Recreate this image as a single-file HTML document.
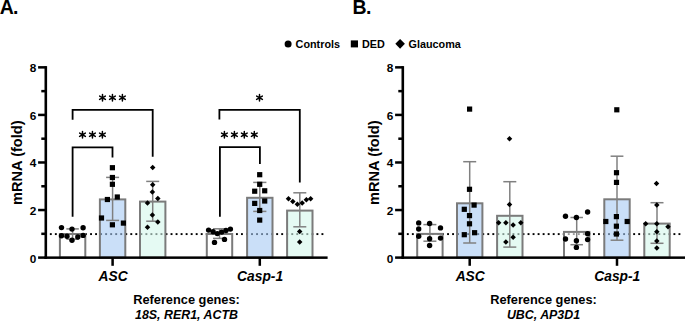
<!DOCTYPE html>
<html><head><meta charset="utf-8"><title>mRNA fold chart</title>
<style>html,body{margin:0;padding:0;background:#fff;}body{width:685px;height:321px;overflow:hidden;font-family:"Liberation Sans", sans-serif;}svg{display:block;}</style>
</head><body>
<svg width="685" height="321" viewBox="0 0 685 321">
<rect width="685" height="321" fill="#fff"/>
<g fill="#000"><rect x="49.85" y="233.15" width="1.9" height="1.9"/><rect x="54.88" y="233.15" width="1.9" height="1.9"/><rect x="59.91" y="233.15" width="1.9" height="1.9"/><rect x="64.94" y="233.15" width="1.9" height="1.9"/><rect x="69.97" y="233.15" width="1.9" height="1.9"/><rect x="75.00" y="233.15" width="1.9" height="1.9"/><rect x="80.03" y="233.15" width="1.9" height="1.9"/><rect x="85.06" y="233.15" width="1.9" height="1.9"/><rect x="90.09" y="233.15" width="1.9" height="1.9"/><rect x="95.12" y="233.15" width="1.9" height="1.9"/><rect x="100.15" y="233.15" width="1.9" height="1.9"/><rect x="105.18" y="233.15" width="1.9" height="1.9"/><rect x="110.21" y="233.15" width="1.9" height="1.9"/><rect x="115.24" y="233.15" width="1.9" height="1.9"/><rect x="120.27" y="233.15" width="1.9" height="1.9"/><rect x="125.30" y="233.15" width="1.9" height="1.9"/><rect x="130.33" y="233.15" width="1.9" height="1.9"/><rect x="135.36" y="233.15" width="1.9" height="1.9"/><rect x="140.39" y="233.15" width="1.9" height="1.9"/><rect x="145.42" y="233.15" width="1.9" height="1.9"/><rect x="150.45" y="233.15" width="1.9" height="1.9"/><rect x="155.48" y="233.15" width="1.9" height="1.9"/><rect x="160.51" y="233.15" width="1.9" height="1.9"/><rect x="165.54" y="233.15" width="1.9" height="1.9"/><rect x="170.57" y="233.15" width="1.9" height="1.9"/><rect x="175.60" y="233.15" width="1.9" height="1.9"/><rect x="180.63" y="233.15" width="1.9" height="1.9"/><rect x="185.66" y="233.15" width="1.9" height="1.9"/><rect x="190.69" y="233.15" width="1.9" height="1.9"/><rect x="195.72" y="233.15" width="1.9" height="1.9"/><rect x="200.75" y="233.15" width="1.9" height="1.9"/><rect x="205.78" y="233.15" width="1.9" height="1.9"/><rect x="210.81" y="233.15" width="1.9" height="1.9"/><rect x="215.84" y="233.15" width="1.9" height="1.9"/><rect x="220.87" y="233.15" width="1.9" height="1.9"/><rect x="225.90" y="233.15" width="1.9" height="1.9"/><rect x="230.93" y="233.15" width="1.9" height="1.9"/><rect x="235.96" y="233.15" width="1.9" height="1.9"/><rect x="240.99" y="233.15" width="1.9" height="1.9"/><rect x="246.02" y="233.15" width="1.9" height="1.9"/><rect x="251.05" y="233.15" width="1.9" height="1.9"/><rect x="256.08" y="233.15" width="1.9" height="1.9"/><rect x="261.11" y="233.15" width="1.9" height="1.9"/><rect x="266.14" y="233.15" width="1.9" height="1.9"/><rect x="271.17" y="233.15" width="1.9" height="1.9"/><rect x="276.20" y="233.15" width="1.9" height="1.9"/><rect x="281.23" y="233.15" width="1.9" height="1.9"/><rect x="286.26" y="233.15" width="1.9" height="1.9"/><rect x="291.29" y="233.15" width="1.9" height="1.9"/><rect x="296.32" y="233.15" width="1.9" height="1.9"/><rect x="301.35" y="233.15" width="1.9" height="1.9"/><rect x="306.38" y="233.15" width="1.9" height="1.9"/><rect x="311.41" y="233.15" width="1.9" height="1.9"/><rect x="316.44" y="233.15" width="1.9" height="1.9"/><rect x="321.47" y="233.15" width="1.9" height="1.9"/></g>
<rect x="59.90" y="234.00" width="25.40" height="23.60" fill="rgb(255,255,255)" fill-opacity="0.60" stroke="#7b7b7b" stroke-width="2"/>
<rect x="99.90" y="199.40" width="25.40" height="58.20" fill="rgb(167,202,243)" fill-opacity="0.60" stroke="#7b7b7b" stroke-width="2"/>
<rect x="140.00" y="201.60" width="25.40" height="56.00" fill="rgb(212,247,235)" fill-opacity="0.60" stroke="#7b7b7b" stroke-width="2"/>
<rect x="206.80" y="234.00" width="25.40" height="23.60" fill="rgb(255,255,255)" fill-opacity="0.60" stroke="#7b7b7b" stroke-width="2"/>
<rect x="247.10" y="197.80" width="25.40" height="59.80" fill="rgb(167,202,243)" fill-opacity="0.60" stroke="#7b7b7b" stroke-width="2"/>
<rect x="287.10" y="210.60" width="25.40" height="47.00" fill="rgb(212,247,235)" fill-opacity="0.60" stroke="#7b7b7b" stroke-width="2"/>
<g stroke="#808080" stroke-width="1.5" fill="none">
<line x1="72.60" y1="228.90" x2="72.60" y2="239.20"/>
<line x1="66.35" y1="228.90" x2="78.85" y2="228.90"/>
<line x1="66.35" y1="239.20" x2="78.85" y2="239.20"/>
</g>
<g stroke="#808080" stroke-width="1.5" fill="none">
<line x1="112.60" y1="177.40" x2="112.60" y2="220.40"/>
<line x1="106.10" y1="177.40" x2="119.10" y2="177.40"/>
<line x1="106.10" y1="220.40" x2="119.10" y2="220.40"/>
</g>
<g stroke="#808080" stroke-width="1.5" fill="none">
<line x1="152.70" y1="181.40" x2="152.70" y2="221.20"/>
<line x1="146.20" y1="181.40" x2="159.20" y2="181.40"/>
<line x1="146.20" y1="221.20" x2="159.20" y2="221.20"/>
</g>
<g stroke="#808080" stroke-width="1.5" fill="none">
<line x1="219.50" y1="228.80" x2="219.50" y2="238.40"/>
<line x1="213.00" y1="228.80" x2="226.00" y2="228.80"/>
<line x1="213.00" y1="238.40" x2="226.00" y2="238.40"/>
</g>
<g stroke="#808080" stroke-width="1.5" fill="none">
<line x1="259.80" y1="182.40" x2="259.80" y2="211.40"/>
<line x1="253.20" y1="182.40" x2="266.40" y2="182.40"/>
<line x1="253.20" y1="211.40" x2="266.40" y2="211.40"/>
</g>
<g stroke="#808080" stroke-width="1.5" fill="none">
<line x1="299.80" y1="192.80" x2="299.80" y2="226.80"/>
<line x1="293.30" y1="192.80" x2="306.30" y2="192.80"/>
<line x1="293.30" y1="226.80" x2="306.30" y2="226.80"/>
</g>
<g fill="#000">
<circle cx="61.50" cy="227.60" r="2.7"/>
<circle cx="72.00" cy="229.10" r="2.7"/>
<circle cx="83.10" cy="227.80" r="2.7"/>
<circle cx="61.50" cy="235.70" r="2.7"/>
<circle cx="67.00" cy="236.30" r="2.7"/>
<circle cx="72.00" cy="240.20" r="2.7"/>
<circle cx="77.80" cy="237.00" r="2.7"/>
<circle cx="83.10" cy="235.40" r="2.7"/>
<rect x="109.80" y="165.10" width="5.20" height="5.20"/>
<rect x="109.80" y="174.90" width="5.20" height="5.20"/>
<rect x="109.80" y="181.70" width="5.20" height="5.20"/>
<rect x="114.70" y="194.40" width="5.20" height="5.20"/>
<rect x="104.80" y="196.90" width="5.20" height="5.20"/>
<rect x="98.90" y="215.40" width="5.20" height="5.20"/>
<rect x="120.80" y="220.50" width="5.20" height="5.20"/>
<rect x="109.80" y="222.20" width="5.20" height="5.20"/>
<path d="M152.70 164.75L155.45 167.50L152.70 170.25L149.95 167.50Z"/>
<path d="M152.70 181.95L155.45 184.70L152.70 187.45L149.95 184.70Z"/>
<path d="M152.40 189.35L155.15 192.10L152.40 194.85L149.65 192.10Z"/>
<path d="M157.80 195.65L160.55 198.40L157.80 201.15L155.05 198.40Z"/>
<path d="M147.50 200.15L150.25 202.90L147.50 205.65L144.75 202.90Z"/>
<path d="M152.40 212.25L155.15 215.00L152.40 217.75L149.65 215.00Z"/>
<path d="M157.80 219.25L160.55 222.00L157.80 224.75L155.05 222.00Z"/>
<path d="M147.50 224.45L150.25 227.20L147.50 229.95L144.75 227.20Z"/>
<circle cx="208.60" cy="230.10" r="2.7"/>
<circle cx="213.10" cy="231.70" r="2.7"/>
<circle cx="217.30" cy="233.60" r="2.7"/>
<circle cx="221.70" cy="232.10" r="2.7"/>
<circle cx="226.00" cy="230.50" r="2.7"/>
<circle cx="230.40" cy="229.10" r="2.7"/>
<circle cx="214.50" cy="242.40" r="2.7"/>
<circle cx="224.50" cy="239.40" r="2.7"/>
<rect x="257.10" y="172.10" width="5.20" height="5.20"/>
<rect x="257.10" y="181.70" width="5.20" height="5.20"/>
<rect x="252.10" y="188.60" width="5.20" height="5.20"/>
<rect x="262.10" y="188.20" width="5.20" height="5.20"/>
<rect x="262.10" y="198.40" width="5.20" height="5.20"/>
<rect x="252.10" y="200.80" width="5.20" height="5.20"/>
<rect x="257.10" y="207.90" width="5.20" height="5.20"/>
<rect x="257.10" y="217.50" width="5.20" height="5.20"/>
<path d="M288.50 195.95L291.25 198.70L288.50 201.45L285.75 198.70Z"/>
<path d="M292.80 198.65L295.55 201.40L292.80 204.15L290.05 201.40Z"/>
<path d="M297.40 201.55L300.15 204.30L297.40 207.05L294.65 204.30Z"/>
<path d="M302.20 200.25L304.95 203.00L302.20 205.75L299.45 203.00Z"/>
<path d="M306.40 196.95L309.15 199.70L306.40 202.45L303.65 199.70Z"/>
<path d="M310.60 195.95L313.35 198.70L310.60 201.45L307.85 198.70Z"/>
<path d="M299.70 228.65L302.45 231.40L299.70 234.15L296.95 231.40Z"/>
<path d="M299.70 239.35L302.45 242.10L299.70 244.85L296.95 242.10Z"/>
</g>
<g fill="#000">
<rect x="44.50" y="66.10" width="2.6" height="192.80"/>
<rect x="44.50" y="256.40" width="283.10" height="2.5"/>
<rect x="38.10" y="256.35" width="7.70" height="2.5"/>
<rect x="41.30" y="232.57" width="4.50" height="2.5"/>
<rect x="38.10" y="208.79" width="7.70" height="2.5"/>
<rect x="41.30" y="185.01" width="4.50" height="2.5"/>
<rect x="38.10" y="161.23" width="7.70" height="2.5"/>
<rect x="41.30" y="137.45" width="4.50" height="2.5"/>
<rect x="38.10" y="113.67" width="7.70" height="2.5"/>
<rect x="41.30" y="89.89" width="4.50" height="2.5"/>
<rect x="38.10" y="66.11" width="7.70" height="2.5"/>
<rect x="111.35" y="257.60" width="2.5" height="8.20"/>
<rect x="258.55" y="257.60" width="2.5" height="8.20"/>
</g>
<g font-family='"Liberation Sans", sans-serif' font-weight="bold" font-size="11.8" text-anchor="end">
<text x="36.40" y="262.50">0</text>
<text x="36.40" y="214.94">2</text>
<text x="36.40" y="167.38">4</text>
<text x="36.40" y="119.82">6</text>
<text x="36.40" y="72.26">8</text>
</g>
<text transform="translate(21.60,162.7) rotate(-90)" font-family='"Liberation Sans", sans-serif' font-weight="bold" font-size="14.6" text-anchor="middle">mRNA (fold)</text>
<g font-family='"Liberation Sans", sans-serif' font-weight="bold" font-style="italic" font-size="13.8" text-anchor="middle">
<text x="113.10" y="281.0">ASC</text>
<text x="260.10" y="281.0">Casp-1</text>
</g>
<text x="186.50" y="303.5" font-family='"Liberation Sans", sans-serif' font-weight="bold" font-size="12.8" text-anchor="middle">Reference genes:</text>
<text x="186.50" y="319.3" font-family='"Liberation Sans", sans-serif' font-weight="bold" font-style="italic" font-size="12.4" text-anchor="middle">18S, RER1, ACTB</text>
<text x="-0.30" y="13.9" font-family='"Liberation Sans", sans-serif' font-weight="bold" font-size="19.5" letter-spacing="-0.7">A.</text>
<g stroke="#000" stroke-width="1.8" fill="none" stroke-linecap="butt">
<path d="M72.6 119.7V109.9H152.7V156.8"/>
<path d="M72.6 216.8V147.4H112.5V157.4"/>
<path d="M219.4 119.6V109.8H299.8V182.5"/>
<path d="M219.9 216.8V147.1H259.9V163.9"/>
</g>
<path d="M102.50 94.40L102.50 101.00M99.64 96.05L105.36 99.35M99.64 99.35L105.36 96.05M112.45 94.40L112.45 101.00M109.59 96.05L115.31 99.35M109.59 99.35L115.31 96.05M122.40 94.40L122.40 101.00M119.54 96.05L125.26 99.35M119.54 99.35L125.26 96.05M82.50 131.40L82.50 138.00M79.64 133.05L85.36 136.35M79.64 136.35L85.36 133.05M92.45 131.40L92.45 138.00M89.59 133.05L95.31 136.35M89.59 136.35L95.31 133.05M102.40 131.40L102.40 138.00M99.54 133.05L105.26 136.35M99.54 136.35L105.26 133.05M259.50 94.40L259.50 101.00M256.64 96.05L262.36 99.35M256.64 99.35L262.36 96.05M224.40 131.40L224.40 138.00M221.54 133.05L227.26 136.35M221.54 136.35L227.26 133.05M234.40 131.40L234.40 138.00M231.54 133.05L237.26 136.35M231.54 136.35L237.26 133.05M244.30 131.40L244.30 138.00M241.44 133.05L247.16 136.35M241.44 136.35L247.16 133.05M254.30 131.40L254.30 138.00M251.44 133.05L257.16 136.35M251.44 136.35L257.16 133.05" stroke="#000" stroke-width="1.5" stroke-linecap="round" fill="none"/>
<g fill="#000"><rect x="406.85" y="233.15" width="1.9" height="1.9"/><rect x="411.88" y="233.15" width="1.9" height="1.9"/><rect x="416.91" y="233.15" width="1.9" height="1.9"/><rect x="421.94" y="233.15" width="1.9" height="1.9"/><rect x="426.97" y="233.15" width="1.9" height="1.9"/><rect x="432.00" y="233.15" width="1.9" height="1.9"/><rect x="437.03" y="233.15" width="1.9" height="1.9"/><rect x="442.06" y="233.15" width="1.9" height="1.9"/><rect x="447.09" y="233.15" width="1.9" height="1.9"/><rect x="452.12" y="233.15" width="1.9" height="1.9"/><rect x="457.15" y="233.15" width="1.9" height="1.9"/><rect x="462.18" y="233.15" width="1.9" height="1.9"/><rect x="467.21" y="233.15" width="1.9" height="1.9"/><rect x="472.24" y="233.15" width="1.9" height="1.9"/><rect x="477.27" y="233.15" width="1.9" height="1.9"/><rect x="482.30" y="233.15" width="1.9" height="1.9"/><rect x="487.33" y="233.15" width="1.9" height="1.9"/><rect x="492.36" y="233.15" width="1.9" height="1.9"/><rect x="497.39" y="233.15" width="1.9" height="1.9"/><rect x="502.42" y="233.15" width="1.9" height="1.9"/><rect x="507.45" y="233.15" width="1.9" height="1.9"/><rect x="512.48" y="233.15" width="1.9" height="1.9"/><rect x="517.51" y="233.15" width="1.9" height="1.9"/><rect x="522.54" y="233.15" width="1.9" height="1.9"/><rect x="527.57" y="233.15" width="1.9" height="1.9"/><rect x="532.60" y="233.15" width="1.9" height="1.9"/><rect x="537.63" y="233.15" width="1.9" height="1.9"/><rect x="542.66" y="233.15" width="1.9" height="1.9"/><rect x="547.69" y="233.15" width="1.9" height="1.9"/><rect x="552.72" y="233.15" width="1.9" height="1.9"/><rect x="557.75" y="233.15" width="1.9" height="1.9"/><rect x="562.78" y="233.15" width="1.9" height="1.9"/><rect x="567.81" y="233.15" width="1.9" height="1.9"/><rect x="572.84" y="233.15" width="1.9" height="1.9"/><rect x="577.87" y="233.15" width="1.9" height="1.9"/><rect x="582.90" y="233.15" width="1.9" height="1.9"/><rect x="587.93" y="233.15" width="1.9" height="1.9"/><rect x="592.96" y="233.15" width="1.9" height="1.9"/><rect x="597.99" y="233.15" width="1.9" height="1.9"/><rect x="603.02" y="233.15" width="1.9" height="1.9"/><rect x="608.05" y="233.15" width="1.9" height="1.9"/><rect x="613.08" y="233.15" width="1.9" height="1.9"/><rect x="618.11" y="233.15" width="1.9" height="1.9"/><rect x="623.14" y="233.15" width="1.9" height="1.9"/><rect x="628.17" y="233.15" width="1.9" height="1.9"/><rect x="633.20" y="233.15" width="1.9" height="1.9"/><rect x="638.23" y="233.15" width="1.9" height="1.9"/><rect x="643.26" y="233.15" width="1.9" height="1.9"/><rect x="648.29" y="233.15" width="1.9" height="1.9"/><rect x="653.32" y="233.15" width="1.9" height="1.9"/><rect x="658.35" y="233.15" width="1.9" height="1.9"/><rect x="663.38" y="233.15" width="1.9" height="1.9"/><rect x="668.41" y="233.15" width="1.9" height="1.9"/><rect x="673.44" y="233.15" width="1.9" height="1.9"/><rect x="678.47" y="233.15" width="1.9" height="1.9"/></g>
<rect x="417.20" y="233.90" width="25.40" height="23.70" fill="rgb(255,255,255)" fill-opacity="0.60" stroke="#7b7b7b" stroke-width="2"/>
<rect x="457.00" y="203.30" width="25.40" height="54.30" fill="rgb(167,202,243)" fill-opacity="0.60" stroke="#7b7b7b" stroke-width="2"/>
<rect x="497.10" y="215.80" width="25.40" height="41.80" fill="rgb(212,247,235)" fill-opacity="0.60" stroke="#7b7b7b" stroke-width="2"/>
<rect x="564.00" y="231.90" width="25.40" height="25.70" fill="rgb(255,255,255)" fill-opacity="0.60" stroke="#7b7b7b" stroke-width="2"/>
<rect x="604.30" y="199.30" width="25.40" height="58.30" fill="rgb(167,202,243)" fill-opacity="0.60" stroke="#7b7b7b" stroke-width="2"/>
<rect x="644.30" y="223.60" width="25.40" height="34.00" fill="rgb(212,247,235)" fill-opacity="0.60" stroke="#7b7b7b" stroke-width="2"/>
<g stroke="#808080" stroke-width="1.5" fill="none">
<line x1="429.90" y1="224.60" x2="429.90" y2="241.20"/>
<line x1="423.40" y1="224.60" x2="436.40" y2="224.60"/>
<line x1="423.40" y1="241.20" x2="436.40" y2="241.20"/>
</g>
<g stroke="#808080" stroke-width="1.5" fill="none">
<line x1="469.70" y1="161.70" x2="469.70" y2="243.00"/>
<line x1="463.20" y1="161.70" x2="476.20" y2="161.70"/>
<line x1="463.20" y1="243.00" x2="476.20" y2="243.00"/>
</g>
<g stroke="#808080" stroke-width="1.5" fill="none">
<line x1="509.80" y1="181.70" x2="509.80" y2="247.10"/>
<line x1="503.30" y1="181.70" x2="516.30" y2="181.70"/>
<line x1="503.30" y1="247.10" x2="516.30" y2="247.10"/>
</g>
<g stroke="#808080" stroke-width="1.5" fill="none">
<line x1="576.70" y1="217.50" x2="576.70" y2="244.70"/>
<line x1="570.45" y1="217.50" x2="582.95" y2="217.50"/>
<line x1="570.45" y1="244.70" x2="582.95" y2="244.70"/>
</g>
<g stroke="#808080" stroke-width="1.5" fill="none">
<line x1="617.00" y1="156.20" x2="617.00" y2="240.20"/>
<line x1="610.60" y1="156.20" x2="623.40" y2="156.20"/>
<line x1="610.60" y1="240.20" x2="623.40" y2="240.20"/>
</g>
<g stroke="#808080" stroke-width="1.5" fill="none">
<line x1="657.00" y1="202.70" x2="657.00" y2="243.30"/>
<line x1="650.50" y1="202.70" x2="663.50" y2="202.70"/>
<line x1="650.50" y1="243.30" x2="663.50" y2="243.30"/>
</g>
<g fill="#000">
<circle cx="418.70" cy="222.90" r="2.7"/>
<circle cx="418.70" cy="229.00" r="2.7"/>
<circle cx="418.70" cy="236.30" r="2.7"/>
<circle cx="429.60" cy="223.50" r="2.7"/>
<circle cx="429.60" cy="238.80" r="2.7"/>
<circle cx="429.60" cy="245.50" r="2.7"/>
<circle cx="440.50" cy="227.90" r="2.7"/>
<circle cx="440.50" cy="238.10" r="2.7"/>
<rect x="467.00" y="106.50" width="5.20" height="5.20"/>
<rect x="466.90" y="186.70" width="5.20" height="5.20"/>
<rect x="471.50" y="202.50" width="5.20" height="5.20"/>
<rect x="461.70" y="206.70" width="5.20" height="5.20"/>
<rect x="466.90" y="213.00" width="5.20" height="5.20"/>
<rect x="466.90" y="221.20" width="5.20" height="5.20"/>
<rect x="461.70" y="232.10" width="5.20" height="5.20"/>
<rect x="472.00" y="230.10" width="5.20" height="5.20"/>
<path d="M509.50 135.95L512.25 138.70L509.50 141.45L506.75 138.70Z"/>
<path d="M509.50 201.85L512.25 204.60L509.50 207.35L506.75 204.60Z"/>
<path d="M498.60 220.05L501.35 222.80L498.60 225.55L495.85 222.80Z"/>
<path d="M505.90 220.05L508.65 222.80L505.90 225.55L503.15 222.80Z"/>
<path d="M513.10 222.35L515.85 225.10L513.10 227.85L510.35 225.10Z"/>
<path d="M520.80 220.05L523.55 222.80L520.80 225.55L518.05 222.80Z"/>
<path d="M513.10 234.55L515.85 237.30L513.10 240.05L510.35 237.30Z"/>
<path d="M505.90 239.15L508.65 241.90L505.90 244.65L503.15 241.90Z"/>
<circle cx="565.50" cy="216.20" r="2.7"/>
<circle cx="576.40" cy="217.50" r="2.7"/>
<circle cx="587.60" cy="212.00" r="2.7"/>
<circle cx="587.60" cy="233.80" r="2.7"/>
<circle cx="565.50" cy="239.00" r="2.7"/>
<circle cx="576.40" cy="240.80" r="2.7"/>
<circle cx="587.60" cy="239.60" r="2.7"/>
<circle cx="576.40" cy="247.40" r="2.7"/>
<rect x="614.20" y="107.20" width="5.20" height="5.20"/>
<rect x="613.90" y="170.10" width="5.20" height="5.20"/>
<rect x="613.90" y="179.80" width="5.20" height="5.20"/>
<rect x="613.80" y="214.00" width="5.20" height="5.20"/>
<rect x="603.20" y="218.90" width="5.20" height="5.20"/>
<rect x="624.60" y="218.90" width="5.20" height="5.20"/>
<rect x="613.80" y="223.60" width="5.20" height="5.20"/>
<rect x="613.80" y="231.40" width="5.20" height="5.20"/>
<path d="M656.50 180.85L659.25 183.60L656.50 186.35L653.75 183.60Z"/>
<path d="M656.80 202.15L659.55 204.90L656.80 207.65L654.05 204.90Z"/>
<path d="M645.70 221.05L648.45 223.80L645.70 226.55L642.95 223.80Z"/>
<path d="M656.80 221.05L659.55 223.80L656.80 226.55L654.05 223.80Z"/>
<path d="M668.00 223.95L670.75 226.70L668.00 229.45L665.25 226.70Z"/>
<path d="M656.80 229.05L659.55 231.80L656.80 234.55L654.05 231.80Z"/>
<path d="M656.80 238.15L659.55 240.90L656.80 243.65L654.05 240.90Z"/>
<path d="M656.80 245.35L659.55 248.10L656.80 250.85L654.05 248.10Z"/>
</g>
<g fill="#000">
<rect x="401.50" y="66.10" width="2.6" height="192.80"/>
<rect x="401.50" y="256.40" width="284.00" height="2.5"/>
<rect x="395.10" y="256.35" width="7.70" height="2.5"/>
<rect x="398.30" y="232.57" width="4.50" height="2.5"/>
<rect x="395.10" y="208.79" width="7.70" height="2.5"/>
<rect x="398.30" y="185.01" width="4.50" height="2.5"/>
<rect x="395.10" y="161.23" width="7.70" height="2.5"/>
<rect x="398.30" y="137.45" width="4.50" height="2.5"/>
<rect x="395.10" y="113.67" width="7.70" height="2.5"/>
<rect x="398.30" y="89.89" width="4.50" height="2.5"/>
<rect x="395.10" y="66.11" width="7.70" height="2.5"/>
<rect x="468.45" y="257.60" width="2.5" height="8.20"/>
<rect x="615.75" y="257.60" width="2.5" height="8.20"/>
</g>
<g font-family='"Liberation Sans", sans-serif' font-weight="bold" font-size="11.8" text-anchor="end">
<text x="393.40" y="262.50">0</text>
<text x="393.40" y="214.94">2</text>
<text x="393.40" y="167.38">4</text>
<text x="393.40" y="119.82">6</text>
<text x="393.40" y="72.26">8</text>
</g>
<text transform="translate(378.60,162.7) rotate(-90)" font-family='"Liberation Sans", sans-serif' font-weight="bold" font-size="14.6" text-anchor="middle">mRNA (fold)</text>
<g font-family='"Liberation Sans", sans-serif' font-weight="bold" font-style="italic" font-size="13.8" text-anchor="middle">
<text x="470.20" y="281.0">ASC</text>
<text x="617.30" y="281.0">Casp-1</text>
</g>
<text x="543.50" y="303.5" font-family='"Liberation Sans", sans-serif' font-weight="bold" font-size="12.8" text-anchor="middle">Reference genes:</text>
<text x="543.50" y="319.3" font-family='"Liberation Sans", sans-serif' font-weight="bold" font-style="italic" font-size="12.4" text-anchor="middle">UBC, AP3D1</text>
<text x="352.60" y="13.9" font-family='"Liberation Sans", sans-serif' font-weight="bold" font-size="19.5" letter-spacing="-0.7">B.</text>
<circle cx="288.1" cy="43.9" r="3.5"/>
<rect x="350.8" y="40.4" width="7.2" height="7.0"/>
<path d="M400.1 38.9L404.9 43.8L400.1 48.7L395.3 43.8Z"/>
<g font-family='"Liberation Sans", sans-serif' font-weight="bold" font-size="10.8">
<text x="295.6" y="47.6">Controls</text>
<text x="362.0" y="47.6">DED</text>
<text x="408.6" y="47.6">Glaucoma</text>
</g>
</svg>
</body></html>
